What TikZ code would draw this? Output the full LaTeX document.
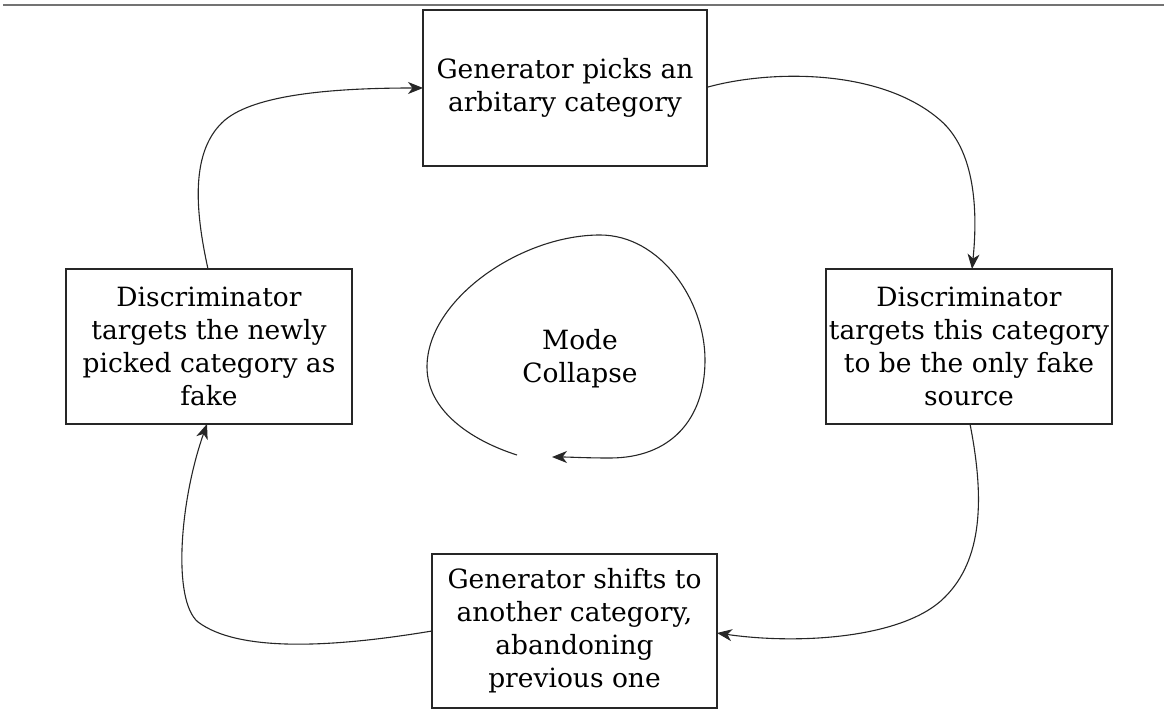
\documentclass[tikz,border=0pt]{standalone}
\usepackage{fontspec}
\setmainfont{DejaVu Serif}
\usetikzlibrary{arrows.meta}
\tikzset{
  box/.style={draw=black!85, line width=1.3pt, rectangle, align=center, inner sep=0pt,
    font=\fontsize{26.5}{33}\selectfont},
  conn/.style={draw=black!85, line width=1.1pt, -{Stealth[length=15pt,width=12pt,inset=4.5pt]}},
  lbl/.style={align=center, font=\fontsize{26.5}{33}\selectfont}
}
\begin{document}
\begin{tikzpicture}[x=1pt,y=-1pt]
\useasboundingbox (0,0) rectangle (1164,711);
\draw[black!55, line width=1.8pt] (3,5) -- (1164,5);
\node[box, minimum width=284pt, minimum height=156pt] (gen) at (565,88) {Generator picks an\\arbitary category};
\node[box, minimum width=286pt, minimum height=155pt] (dl) at (209,346.5) {Discriminator\\targets the newly\\picked category as\\fake};
\node[box, minimum width=286pt, minimum height=155pt] (dr) at (969,346.5) {Discriminator\\targets this category\\to be the only fake\\source};
\node[box, minimum width=285pt, minimum height=154pt] (gs) at (574.5,631) {Generator shifts to\\another category,\\abandoning\\previous one};
\node[lbl] (mc) at (580,359) {Mode\\Collapse};
\coordinate (a1s) at (208,269);
\coordinate (a1e) at (423,88);
\coordinate (a2s) at (708,87);
\coordinate (a2e) at (972,269);
\coordinate (a3s) at (970,424);
\coordinate (a3e) at (717,633);
\coordinate (a4s) at (432,631);
\coordinate (a4e) at (207,424);
\coordinate (ls) at (517,455);
\coordinate (le) at (552,457);
\draw[conn] (a1s) .. controls (195,210) and (190,150) .. (225,120)
  .. controls (255,95) and (330,88) .. (a1e);
\draw[conn] (a2s) .. controls (770,70) and (880,68) .. (940,120)
  .. controls (975,150) and (978,210) .. (a2e);
\draw[conn] (a3s) .. controls (985,500) and (982,560) .. (945,597)
  .. controls (905,638) and (800,645) .. (a3e);
\draw[conn] (a4s) .. controls (330,648) and (238,652) .. (198,622)
  .. controls (172,600) and (180,500) .. (a4e);
\draw[conn] (ls) .. controls (470,440) and (427,410) .. (427,367)
  .. controls (427,300) and (520,235) .. (600,235)
  .. controls (660,235) and (705,300) .. (705,360)
  .. controls (705,420) and (670,458) .. (610,458)
  .. controls (585,458) and (570,457) .. (le);
\end{tikzpicture}
\end{document}
